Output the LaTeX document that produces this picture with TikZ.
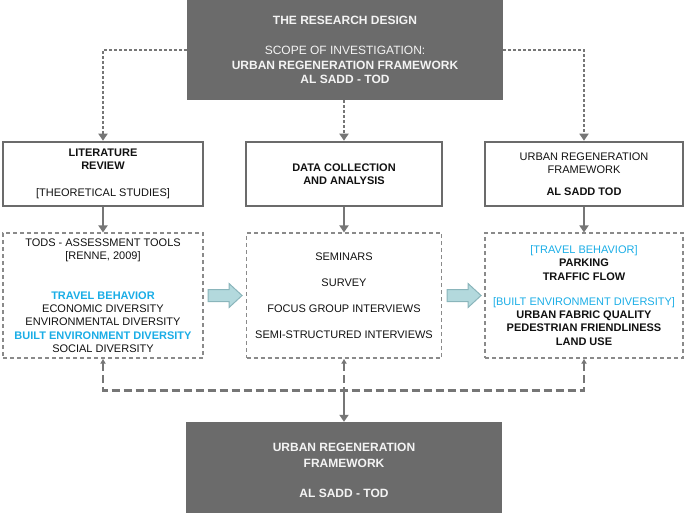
\documentclass[tikz,border=0pt]{standalone}
\usepackage{fontspec}
\setmainfont{Liberation Sans}
\usetikzlibrary{arrows.meta,calc}
\definecolor{dk}{HTML}{6B6B6B}
\definecolor{ln}{HTML}{767676}
\definecolor{dl}{HTML}{8A8A8A}
\definecolor{bl}{HTML}{1AADE6}
\definecolor{afill}{HTML}{B3D9DD}
\definecolor{aedge}{HTML}{8AB5BB}
\definecolor{tx}{HTML}{111111}
\definecolor{wt}{HTML}{F4F4F4}
\begin{document}
\begin{tikzpicture}[x=1pt,y=-1pt,
  darkbox/.style={fill=dk,draw=none,text=wt,align=center,inner sep=0pt,
    font=\fontsize{12}{14.5}\selectfont},
  solidbox/.style={draw=dk,line width=2.6pt,align=center,inner sep=0pt,text=tx,
    font=\fontsize{11}{13.3}\selectfont},
  dashbox/.style={draw=dl,line width=1.1pt,dash pattern=on 4pt off 3pt,align=center,inner sep=0pt,text=tx,
    font=\fontsize{11}{13.3}\selectfont},
  dotline/.style={draw=ln,line width=2.6pt,dash pattern=on 2.6pt off 2.4pt,-{Triangle[length=7pt,width=9pt]}},
  solidline/.style={draw=ln,line width=2.6pt,-{Triangle[length=7pt,width=9pt]}},
  dashline/.style={draw=ln,line width=2.8pt,dash pattern=on 8pt off 4pt},
  uptip/.style={{Latex[length=5pt,width=6pt]}-},
  blockarrow/.style={fill=afill,draw=aedge,line width=1pt,line join=miter},
  hl/.style={}]
\useasboundingbox (0,0) rectangle (685,512);

% top box
\node[darkbox,minimum width=316pt,minimum height=100pt] (top) at (345,50)
  {\textbf{THE RESEARCH DESIGN}\\[15.5pt]SCOPE OF INVESTIGATION:\\\textbf{URBAN REGENERATION FRAMEWORK}\\[-0.5pt]\textbf{AL SADD - TOD}};

% solid boxes
\node[solidbox,minimum width=200pt,minimum height=64pt] (box1) at (103,174)
  {\textbf{LITERATURE}\\\textbf{REVIEW}\\[13.7pt][THEORETICAL STUDIES]};
\node[solidbox,minimum width=196pt,minimum height=64pt] (box2) at (344,174)
  {\textbf{DATA COLLECTION}\\\textbf{AND ANALYSIS}};
\node[solidbox,minimum width=198pt,minimum height=64pt] (box3) at (584,174)
  {URBAN REGENERATION\\FRAMEWORK\\[8.7pt]\textbf{AL SADD TOD}};

% dashed boxes
\node[dashbox,minimum width=200pt,minimum height=125pt] (dash1) at (103,295.5)
  {TODS - ASSESSMENT TOOLS\\{}[RENNE, 2009]\\[26.7pt]
   \textcolor{bl}{\textbf{TRAVEL BEHAVIOR}}\\ECONOMIC DIVERSITY\\ENVIRONMENTAL DIVERSITY\\
   \textcolor{bl}{\textbf{BUILT ENVIRONMENT DIVERSITY}}\\SOCIAL DIVERSITY};
\node[dashbox,minimum width=195pt,minimum height=125pt] (dash2) at (344,295.5)
  {SEMINARS\\[12.7pt]SURVEY\\[12.7pt]FOCUS GROUP INTERVIEWS\\[12.7pt]SEMI-STRUCTURED INTERVIEWS};
\node[dashbox,minimum width=198pt,minimum height=125pt] (dash3) at (584,295.5)
  {\textcolor{bl}{[TRAVEL BEHAVIOR]}\\\textbf{PARKING}\\\textbf{TRAFFIC FLOW}\\[11.7pt]
   \textcolor{bl}{[BUILT ENVIRONMENT DIVERSITY]}\\\textbf{URBAN FABRIC QUALITY}\\
   \textbf{PEDESTRIAN FRIENDLINESS}\\\textbf{LAND USE}};

% bottom box
\node[darkbox,minimum width=316pt,minimum height=96pt] (bottom) at (344,470)
  {\textbf{URBAN REGENERATION}\\[1.5pt]\textbf{FRAMEWORK}\\[15.5pt]\textbf{AL SADD - TOD}};

% dotted connectors from the top box
\draw[dotline] (top.west) -| (box1.north);
\draw[dotline] (top.east) -| (box3.north);
\draw[dotline] (box2.north |- top.south) -- (box2.north);

% solid connectors
\draw[solidline] (box1.south) -- (dash1.north);
\draw[solidline] (box2.south) -- (dash2.north);
\draw[solidline] (box3.south) -- (dash3.north);

% block arrows
\draw[blockarrow] (dash1.east) ++(4.5,-6) -- ++(21,0) -- ++(0,-6) -- ++(13,12) -- ++(-13,12) -- ++(0,-6) -- ++(-21,0) -- cycle;
\draw[blockarrow] (dash2.east) ++(5,-6) -- ++(21,0) -- ++(0,-6) -- ++(13,12) -- ++(-13,12) -- ++(0,-6) -- ++(-21,0) -- cycle;

% bottom gathering connectors
\coordinate (j) at ($(dash2.south)+(0,32)$);
\draw[dashline,{Latex[length=5pt,width=6pt]}-{Latex[length=5pt,width=6pt]}] (dash1.south) |- (j) -| (dash3.south);
\draw[dashline,uptip] (dash2.south) -- (j);
\draw[solidline] (j) -- (bottom.north);
\end{tikzpicture}
\end{document}
